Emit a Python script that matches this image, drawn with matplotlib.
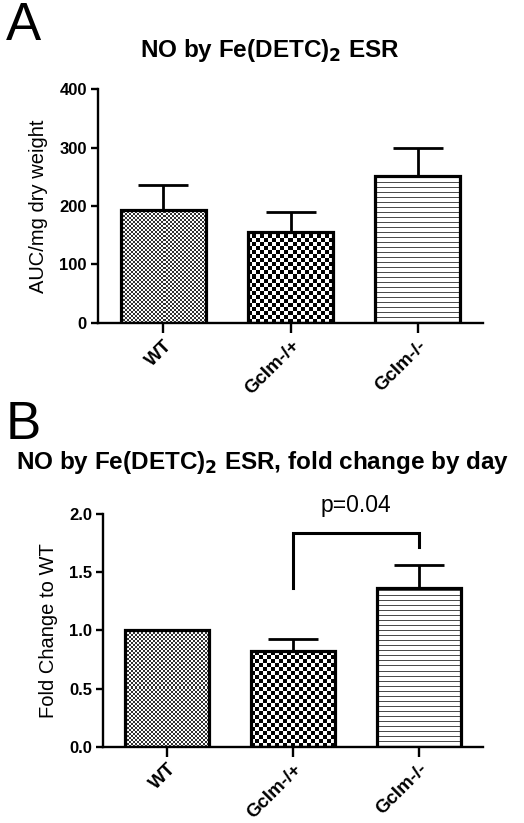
import numpy as np
import matplotlib
matplotlib.use("Agg")
import matplotlib.pyplot as plt

categories = ["WT", "Gclm-/+", "Gclm-/-"]
auc_mean = [193, 156, 251]
auc_err = [43, 33, 49]
fold_mean = [1.0, 0.825, 1.36]
fold_err = [0.0, 0.10, 0.20]
yticks_a = [0, 100, 200, 300, 400]
yticks_b = [0.0, 0.5, 1.0, 1.5, 2.0]

plt.rcParams['font.family'] = ['Liberation Sans', 'DejaVu Sans']

W, H = 524, 823
fig = plt.figure(figsize=(W / 100, H / 100), dpi=100)


def fill_pattern(ax, bar, kind):
    fig.canvas.draw()
    x0, y0 = bar.get_x(), bar.get_y()
    x1, y1 = x0 + bar.get_width(), y0 + bar.get_height()
    p0 = ax.transData.transform((x0, y0))
    p1 = ax.transData.transform((x1, y1))
    wpx = max(int(round(abs(p1[0] - p0[0]))), 1)
    hpx = max(int(round(abs(p1[1] - p0[1]))), 1)
    j, i = np.meshgrid(np.arange(wpx), np.arange(hpx))
    if kind == "fine":
        arr = np.where(((i // 2) + (j // 2)) % 2 == 0, 0.2, 1.0)
    elif kind == "coarse":
        arr = np.where(((i // 4) + (j // 4)) % 2 == 0, 0.0, 1.0)
    else:
        arr = np.where(i % 5 == 0, 0.3, 1.0)
    im = ax.imshow(arr, extent=(x0, x1, y0, y1), cmap="gray", vmin=0, vmax=1,
                   interpolation="nearest", aspect="auto", zorder=2, origin="lower")
    im.set_clip_path(bar)


def panel(rect, means, errs, yticks, ylim, ylabel, fmt):
    ax = fig.add_axes(rect)
    x = np.arange(len(categories))
    bars = ax.bar(x, means, width=0.667, facecolor="none", edgecolor="black",
                  linewidth=2.3, zorder=3)
    for xi, m, e in zip(x, means, errs):
        if e > 0:
            ax.errorbar([xi], [m], yerr=[[0], [e]], fmt="none", ecolor="black",
                        elinewidth=2.0, capsize=18, capthick=2.0, zorder=2.5)
    ax.set_xlim(-0.51, 2.51)
    ax.set_ylim(*ylim)
    for b, kind in zip(bars, ["fine", "coarse", "lines"]):
        fill_pattern(ax, b, kind)
    ax.set_xlim(-0.51, 2.51)
    ax.set_ylim(*ylim)
    for s in ["top", "right"]:
        ax.spines[s].set_visible(False)
    for s in ["left", "bottom"]:
        ax.spines[s].set_linewidth(1.7)
    ax.set_yticks(yticks)
    ax.set_yticklabels([fmt.format(v) for v in yticks], fontsize=12, fontweight="bold")
    ax.set_xticks(x)
    ax.set_xticklabels(categories, fontsize=13.5, fontweight="bold", rotation=45,
                       ha="right", va="top", rotation_mode="anchor")
    ax.tick_params(axis="y", length=5, width=1.7, pad=3)
    ax.tick_params(axis="x", length=7, width=1.7, pad=3)
    ax.set_ylabel(ylabel, fontsize=14.5)
    return ax


axA = panel([98 / W, 1 - 323 / H, 385 / W, 234 / H], auc_mean, auc_err, yticks_a,
            (0, 400), "AUC/mg dry weight", "{:.0f}")
axA.yaxis.set_label_coords(-0.13, 0.5)
axB = panel([103 / W, 1 - 746.7 / H, 380 / W, 232.7 / H], fold_mean, fold_err, yticks_b,
            (0, 2.0), "Fold Change to WT", "{:.1f}")
axB.yaxis.set_label_coords(-0.118, 0.5)

# significance bracket in panel B
axB.plot([1, 1, 2, 2], [1.36, 1.835, 1.835, 1.72], color="black", lw=2.2,
         solid_joinstyle="miter", clip_on=False, zorder=4)
axB.text(1.5, 1.97, "p=0.04", ha="center", va="bottom", fontsize=16.5)

fig.text(270 / W, 1 - 51 / H, r"NO by Fe(DETC)$_\mathbf{2}$ ESR", ha="center", va="center",
         fontsize=17.5, fontweight="bold")
fig.text(262 / W, 1 - 462 / H, r"NO by Fe(DETC)$_\mathbf{2}$ ESR, fold change by day",
         ha="center", va="center", fontsize=17.5, fontweight="bold")
fig.text(6 / W, 1 - 26 / H, "A", ha="left", va="center", fontsize=38)
fig.text(6 / W, 1 - 425 / H, "B", ha="left", va="center", fontsize=38)

fig.savefig("out.png", dpi=100)
